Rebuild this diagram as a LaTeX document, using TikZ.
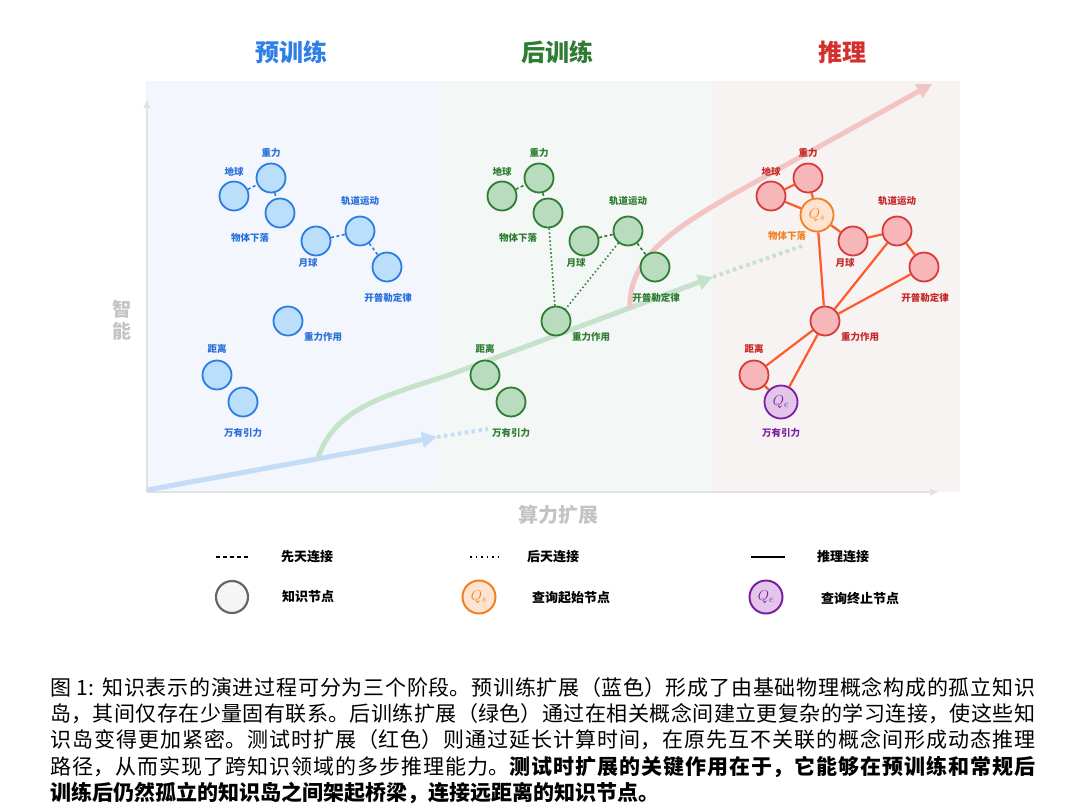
\documentclass[tikz,border=0pt]{standalone}
\usepackage{fontspec}
\setmainfont{Noto Sans CJK SC}
\usetikzlibrary{arrows.meta}
\XeTeXlinebreaklocale "zh"
\XeTeXlinebreakskip=0pt plus 2pt

\definecolor{panelblue}{HTML}{F3F7FD}
\definecolor{panelgreen}{HTML}{F3F7F5}
\definecolor{panelred}{HTML}{F8F3F3}
\definecolor{axisgray}{HTML}{E2E2E2}
\definecolor{axistext}{HTML}{C4C4C4}
\definecolor{trendblue}{HTML}{C5DCF7}
\definecolor{trendgreen}{HTML}{C6E2CB}
\definecolor{trendred}{HTML}{F2C4C4}
\definecolor{blueline}{HTML}{2A7DE1}
\definecolor{bluefill}{HTML}{BBDEFB}
\definecolor{bluetext}{HTML}{2A6FDB}
\definecolor{greenline}{HTML}{2E7D32}
\definecolor{greenfill}{HTML}{B9DCBE}
\definecolor{redline}{HTML}{D63A3A}
\definecolor{redfill}{HTML}{F7B7B9}
\definecolor{redtext}{HTML}{C62828}
\definecolor{reasonline}{HTML}{FF5A2A}
\definecolor{startline}{HTML}{F08020}
\definecolor{startfill}{HTML}{FDE3D0}
\definecolor{endline}{HTML}{7B1FA2}
\definecolor{endfill}{HTML}{E3C5EA}
\definecolor{titleblue}{HTML}{2F7FE6}
\definecolor{titlered}{HTML}{D32F2F}

\tikzset{
  concept/.style={circle, line width=1.8pt, minimum size=29pt, inner sep=0pt},
  bnode/.style={concept, draw=blueline, fill=bluefill},
  gnode/.style={concept, draw=greenline, fill=greenfill},
  rnode/.style={concept, draw=redline, fill=redfill},
  snode/.style={concept, minimum size=33pt, draw=startline, fill=startfill, text=startline, font=\fontsize{14}{14}\selectfont},
  enode/.style={concept, minimum size=33pt, draw=endline, fill=endfill, text=endline, font=\fontsize{14}{14}\selectfont},
  lbl/.style={inner sep=0pt, font=\bfseries\fontsize{9.5}{10}\selectfont},
  innate/.style={line width=1.6pt, dash pattern=on 3pt off 2.5pt},
  learned/.style={line width=1.6pt, dash pattern=on 1.5pt off 2.5pt},
  reason/.style={line width=2.2pt, draw=reasonline},
  trend/.style={line width=5pt, -{Triangle[length=15pt,width=15pt]}},
  trenddots/.style={line width=4pt, dash pattern=on 3.5pt off 3.5pt},
  axisline/.style={line width=1.6pt, draw=axisgray, -{Triangle[length=8pt,width=7pt]}},
  stagetitle/.style={font=\bfseries\fontsize{24}{24}\selectfont},
  legendtext/.style={font=\bfseries\fontsize{13}{13}\selectfont},
}

\begin{document}
\begin{tikzpicture}[x=1pt, y=-1pt]
  \useasboundingbox (0,0) rectangle (1080,812);
  % stage panels
  \fill[panelblue] (146,81) rectangle (436,492);
  \fill[panelgreen] (436,81) rectangle (712,492);
  \fill[panelred] (712,81) rectangle (960,492);
  \node[stagetitle, text=titleblue] (tpre) at (291,52) {预训练};
  \node[stagetitle, text=greenline] (tpost) at (557,52) {后训练};
  \node[stagetitle, text=titlered] (tinf) at (842,52) {推理};
  % axes
  \coordinate (orig) at (147,492);
  \coordinate (ytip) at (147,100);
  \coordinate (xtip) at (938,492);
  \draw[axisline] (orig) -- (ytip);
  \draw[axisline] (orig) -- (xtip);
  \node[text=axistext, font=\bfseries\fontsize{19}{22}\selectfont, align=center] (ylab) at (122,320) {智\\能};
  \node[text=axistext, font=\bfseries\fontsize{20}{20}\selectfont] (xlab) at (558,515) {算力扩展};
  % scaling curves
  \coordinate (bA) at (147,490);
  \coordinate (bB) at (437,437);
  \coordinate (bC) at (488,429);
  \draw[trend, trendblue] (bA) -- (bB);
  \draw[trenddots, trendblue] (bB) -- (bC);
  \coordinate (gA) at (318,458);
  \coordinate (gB) at (713,277);
  \coordinate (gC) at (802,246);
  \draw[trend, trendgreen] (gA) .. controls (336,402) and (400,393) .. (460,371) -- (gB);
  \draw[trenddots, trendgreen] (gB) -- (gC);
  \coordinate (rA) at (630,308);
  \coordinate (rB) at (932,84);
  \draw[trend, trendred] (rA) .. controls (628,255) and (680,226) .. (730,196) -- (rB);

  % pre-training
  \node[bnode] (b1) at (234,196) {};
  \node[bnode] (b2) at (271,178) {};
  \node[bnode] (b3) at (280,213) {};
  \node[bnode] (b4) at (316,241) {};
  \node[bnode] (b5) at (360,231) {};
  \node[bnode] (b6) at (387,267) {};
  \node[bnode] (b7) at (288,321) {};
  \node[bnode] (b8) at (217,375) {};
  \node[bnode] (b9) at (243,402) {};
  \node[lbl, text=bluetext] (b1l) at (234,172) {地球};
  \node[lbl, text=bluetext] (b2l) at (271,153) {重力};
  \node[lbl, text=bluetext] (b3l) at (250,238) {物体下落};
  \node[lbl, text=bluetext] (b4l) at (308,263) {月球};
  \node[lbl, text=bluetext] (b5l) at (360,201) {轨道运动};
  \node[lbl, text=bluetext] (b6l) at (388,298) {开普勒定律};
  \node[lbl, text=bluetext] (b7l) at (323,337) {重力作用};
  \node[lbl, text=bluetext] (b8l) at (217,349) {距离};
  \node[lbl, text=bluetext] (b9l) at (243,433) {万有引力};
  \draw[innate, blueline] (b1) -- (b2);
  \draw[innate, blueline] (b2) -- (b3);
  \draw[innate, blueline] (b4) -- (b5);
  \draw[innate, blueline] (b5) -- (b6);

  % post-training
  \node[gnode] (g1) at (502,196) {};
  \node[gnode] (g2) at (539,178) {};
  \node[gnode] (g3) at (548,213) {};
  \node[gnode] (g4) at (584,241) {};
  \node[gnode] (g5) at (628,231) {};
  \node[gnode] (g6) at (655,267) {};
  \node[gnode] (g7) at (556,321) {};
  \node[gnode] (g8) at (485,375) {};
  \node[gnode] (g9) at (511,402) {};
  \node[lbl, text=greenline] (g1l) at (502,172) {地球};
  \node[lbl, text=greenline] (g2l) at (539,153) {重力};
  \node[lbl, text=greenline] (g3l) at (518,238) {物体下落};
  \node[lbl, text=greenline] (g4l) at (576,263) {月球};
  \node[lbl, text=greenline] (g5l) at (628,201) {轨道运动};
  \node[lbl, text=greenline] (g6l) at (656,298) {开普勒定律};
  \node[lbl, text=greenline] (g7l) at (591,337) {重力作用};
  \node[lbl, text=greenline] (g8l) at (485,349) {距离};
  \node[lbl, text=greenline] (g9l) at (511,433) {万有引力};
  \draw[innate, greenline] (g1) -- (g2);
  \draw[innate, greenline] (g2) -- (g3);
  \draw[innate, greenline] (g4) -- (g5);
  \draw[innate, greenline] (g5) -- (g6);
  \draw[learned, greenline] (g3) -- (g7);
  \draw[learned, greenline] (g5) -- (g7);

  % inference
  \node[rnode] (r1) at (771,196) {};
  \node[rnode] (r2) at (808,178) {};
  \node[snode] (r3) at (817,215) {$Q_s$};
  \node[rnode] (r4) at (853,241) {};
  \node[rnode] (r5) at (897,231) {};
  \node[rnode] (r6) at (924,267) {};
  \node[rnode] (r7) at (825,321) {};
  \node[rnode] (r8) at (754,375) {};
  \node[enode] (r9) at (781,402) {$Q_e$};
  \node[lbl, text=redtext] (r1l) at (771,172) {地球};
  \node[lbl, text=redtext] (r2l) at (808,153) {重力};
  \node[lbl, text=startline] (r3l) at (787,236) {物体下落};
  \node[lbl, text=redtext] (r4l) at (845,263) {月球};
  \node[lbl, text=redtext] (r5l) at (897,201) {轨道运动};
  \node[lbl, text=redtext] (r6l) at (925,298) {开普勒定律};
  \node[lbl, text=redtext] (r7l) at (860,337) {重力作用};
  \node[lbl, text=redtext] (r8l) at (754,349) {距离};
  \node[lbl, text=endline] (r9l) at (781,433) {万有引力};
  \draw[reason] (r1) -- (r2);
  \draw[reason] (r1) -- (r3);
  \draw[reason] (r2) -- (r3);
  \draw[reason] (r3) -- (r4);
  \draw[reason] (r4) -- (r5);
  \draw[reason] (r5) -- (r6);
  \draw[reason] (r3) -- (r7);
  \draw[reason] (r5) -- (r7);
  \draw[reason] (r6) -- (r7);
  \draw[reason] (r7) -- (r8);
  \draw[reason] (r7) -- (r9);
  \draw[reason] (r8) -- (r9);

  % legend
  \coordinate (ia) at (216,557);
  \coordinate (ib) at (248,557);
  \draw[line width=2pt, dash pattern=on 4pt off 3pt] (ia) -- (ib);
  \node[legendtext] (il) at (307,557) {先天连接};
  \coordinate (la) at (470,557);
  \coordinate (lb) at (498,557);
  \draw[line width=1.5pt, dash pattern=on 1.5pt off 4pt] (la) -- (lb);
  \node[legendtext] (ll) at (553,557) {后天连接};
  \coordinate (ra) at (751,557);
  \coordinate (rb) at (785,557);
  \draw[line width=2.2pt] (ra) -- (rb);
  \node[legendtext] (rl) at (843,557) {推理连接};
  \node[concept, minimum size=32pt, line width=2.2pt, draw=black!60, fill=black!4] (kn) at (232,597) {};
  \node[legendtext] (knl) at (308,597) {知识节点};
  \node[snode, line width=2pt] (qs) at (479,597) {$Q_s$};
  \node[legendtext] (qsl) at (571,598) {查询起始节点};
  \node[enode, line width=2pt] (qe) at (766,597) {$Q_e$};
  \node[legendtext] (qel) at (860,598) {查询终止节点};

  % caption
  \node[anchor=north west, inner sep=0pt, text width=985pt, align=justify,
        font=\fontsize{21}{26.3}\selectfont] (cap) at (50,677)
  {图 1: 知识表示的演进过程可分为三个阶段。预训练扩展（蓝色）形成了由基础物理概念构成的孤立知识\linebreak
   岛，其间仅存在少量固有联系。后训练扩展（绿色）通过在相关概念间建立更复杂的学习连接，使这些知\linebreak
   识岛变得更加紧密。测试时扩展（红色）则通过延长计算时间，在原先互不关联的概念间形成动态推理\linebreak
   路径，从而实现了跨知识领域的多步推理能力。{\bfseries 测试时扩展的关键作用在于，它能够在预训练和常规后\linebreak
   训练后仍然孤立的知识岛之间架起桥梁，连接远距离的知识节点。}};
\end{tikzpicture}
\end{document}
